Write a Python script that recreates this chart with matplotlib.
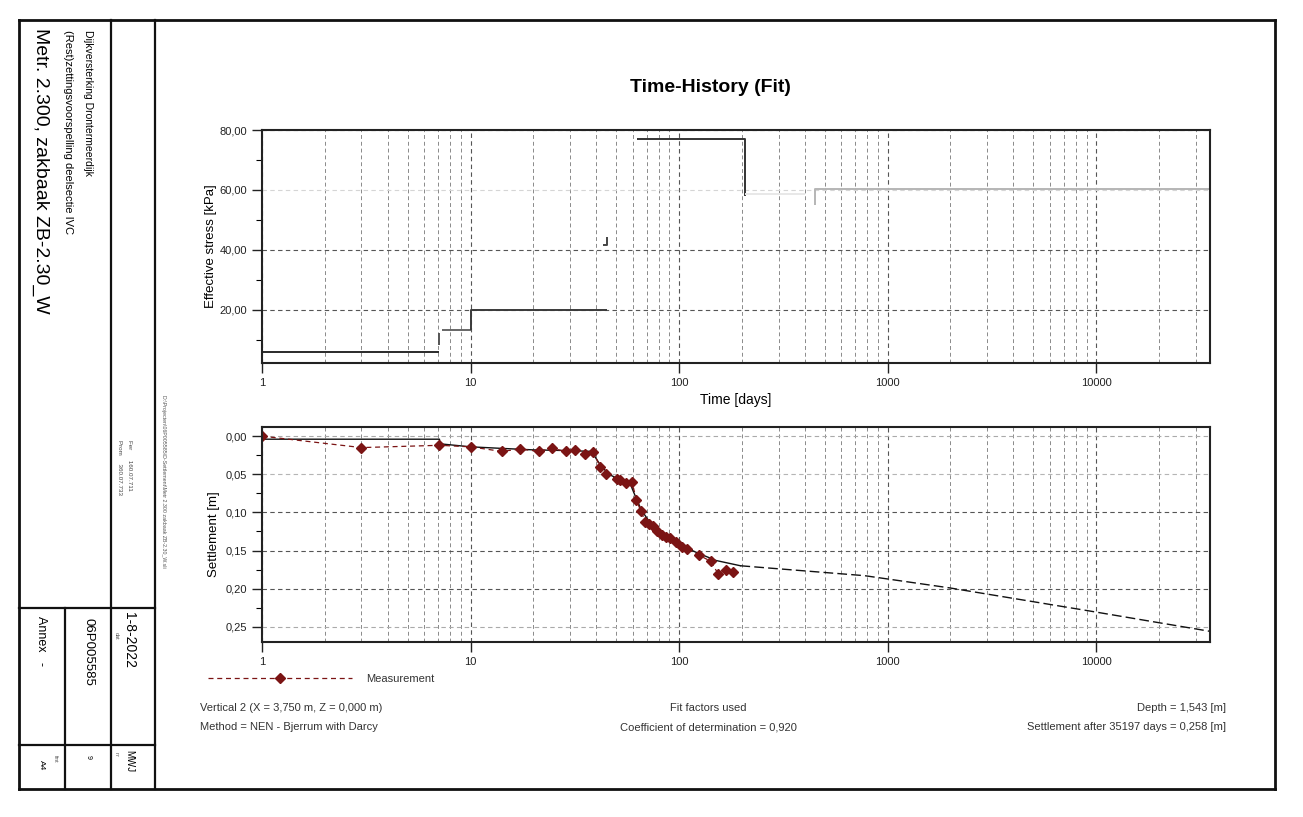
import numpy as np
import matplotlib.pyplot as plt
from matplotlib.lines import Line2D
from matplotlib.ticker import FixedLocator, FuncFormatter, NullFormatter, LogLocator

plt.rcParams['font.family'] = ['Liberation Sans', 'DejaVu Sans']

W, H = 1303, 817

# top graph: effective stress, drawn as separate pieces (days / kPa)
stress_days = [[1, 7.1], [7.1, 7.1], [7.3, 10], [10, 10, 45], [43, 45, 45],
               [63, 208, 208], [208, 400], [447, 447, 35197]]
stress_kpa = [[6.0, 6.0], [8.3, 12.3], [13.3, 13.3], [13.3, 20.0, 20.0], [41.7, 41.7, 44.4],
              [77.0, 77.0, 58.0], [58.5, 58.5], [55.0, 60.3, 60.3]]
stress_shade = ['#2a2a2a', '#555555', '#666666', '#3a3a3a', '#444444', '#333333', '#e8e8e8', '#b5b5b5']

# bottom graph: measured settlement
meas_days = [1, 3.0, 7.1, 10, 14.1, 17.3, 21.4, 24.5, 28.6, 31.6, 35.6, 38.8, 41.8, 44.8,
             50.2, 52.3, 55.8, 59.5, 62.5, 65.5, 69, 72, 75.4, 78.8, 82.6, 87, 91, 96.8,
             103.7, 109.6, 124.5, 141.6, 154.5, 167.8, 181.2]
meas_settl = [0.000, 0.015, 0.012, 0.014, 0.020, 0.017, 0.020, 0.016, 0.020, 0.018, 0.023, 0.021,
              0.040, 0.050, 0.056, 0.057, 0.062, 0.060, 0.084, 0.098, 0.112, 0.115, 0.118, 0.124,
              0.129, 0.132, 0.134, 0.139, 0.145, 0.148, 0.156, 0.164, 0.181, 0.175, 0.178]

# fitted curve
fit_days = [1, 7.1, 7.1, 10, 14, 20, 30, 38, 42, 46, 52, 58, 62, 66, 72, 80, 90, 100, 120, 150, 197]
fit_settl = [0.004, 0.004, 0.010, 0.014, 0.016, 0.018, 0.019, 0.020, 0.038, 0.050, 0.057, 0.061,
             0.080, 0.097, 0.112, 0.125, 0.135, 0.142, 0.152, 0.163, 0.170]
tail_days = [197, 776, 1982, 9160, 35197]
tail_settl = [0.170, 0.183, 0.199, 0.229, 0.256]

x_ticks = [1, 10, 100, 1000, 10000]
x_labels = ['1', '10', '100', '1000', '10000']
stress_ticks = [20, 40, 60, 80]
settl_ticks = [0.00, 0.05, 0.10, 0.15, 0.20, 0.25]

red = '#7b1414'


def fx(x):
    return x / W


def fy(y):
    return 1 - y / H


def style_axes(ax):
    ax.set_xscale('log')
    ax.set_xlim(1, 35197)
    ax.xaxis.set_major_locator(FixedLocator(x_ticks))
    ax.xaxis.set_major_formatter(FuncFormatter(lambda v, p: x_labels[x_ticks.index(round(v))] if round(v) in x_ticks else ''))
    ax.xaxis.set_minor_locator(LogLocator(base=10, subs=np.arange(2, 10)))
    ax.xaxis.set_minor_formatter(NullFormatter())
    ax.tick_params(which='major', direction='out', length=7, width=1, labelsize=8, colors='#222')
    ax.tick_params(axis='x', which='minor', length=0)
    ax.tick_params(axis='y', which='minor', direction='out', length=4, width=0.8)
    ax.grid(which='major', axis='both', ls=(0, (4, 3)), color='#555', lw=0.8)
    ax.grid(which='minor', axis='x', ls=(0, (4, 3)), color='#8a8a8a', lw=0.7)
    for s in ax.spines.values():
        s.set_linewidth(1.5)
        s.set_color('#222')
    ax.set_axisbelow(True)


fig = plt.figure(figsize=(W / 100, H / 100), dpi=100)

# ---- top graph
ax1 = fig.add_axes([fx(262), fy(363), fx(1210) - fx(262), fy(130) - fy(363)])
style_axes(ax1)
ax1.set_ylim(2.3, 80)
ax1.yaxis.set_major_locator(FixedLocator(stress_ticks))
ax1.yaxis.set_minor_locator(FixedLocator([10, 30, 50, 70]))
ax1.yaxis.set_major_formatter(FuncFormatter(lambda v, p: f'{v:.2f}'.replace('.', ',')))
for d, k, c in zip(stress_days, stress_kpa, stress_shade):
    ax1.plot(d, k, color=c, lw=1.4, solid_capstyle='butt')
for gl, c in zip(ax1.get_ygridlines(), ['#555', '#555', '#d5d5d5', '#555']):
    gl.set_color(c)
ax1.set_xlabel('Time [days]', fontsize=10, labelpad=4)
ax1.set_ylabel('Effective stress [kPa]', fontsize=9.5, labelpad=2)

# ---- bottom graph
ax2 = fig.add_axes([fx(262), fy(642), fx(1210) - fx(262), fy(427) - fy(642)])
style_axes(ax2)
ax2.set_ylim(0.27, -0.012)
ax2.yaxis.set_major_locator(FixedLocator(settl_ticks))
ax2.yaxis.set_minor_locator(FixedLocator([0.025, 0.075, 0.125, 0.175, 0.225]))
ax2.yaxis.set_major_formatter(FuncFormatter(lambda v, p: f'{v:.2f}'.replace('.', ',')))
for gl, c in zip(ax2.get_ygridlines(), ['#aaa', '#b5b5b5', '#555', '#555', '#555', '#aaa']):
    gl.set_color(c)
ax2.plot(fit_days, fit_settl, color='#111', lw=1.0)
ax2.plot(tail_days, tail_settl, color='#111', lw=1.0, ls=(0, (7, 3)))
meas, = ax2.plot(meas_days, meas_settl, color=red, lw=0.9, ls=(0, (4, 3)),
                 marker='D', markersize=5, markerfacecolor=red, markeredgecolor=red,
                 label='Measurement')
ax2.set_ylabel('Settlement [m]', fontsize=9.5, labelpad=4)

fig.legend(handles=[meas], loc='center left', bbox_to_anchor=(fx(208), fy(679)),
           frameon=False, fontsize=8, handlelength=13, handletextpad=1.2,
           borderpad=0, borderaxespad=0, numpoints=1, labelcolor='#333')

# ---- title and notes
fig.text(fx(710), fy(87), 'Time-History (Fit)', fontsize=14, fontweight='bold',
         ha='center', va='center')
note = dict(fontsize=8, color='#333', va='center')
fig.text(fx(200), fy(708), 'Vertical 2 (X = 3,750 m, Z = 0,000 m)', ha='left', **note)
fig.text(fx(200), fy(727), 'Method = NEN - Bjerrum with Darcy', ha='left', **note)
fig.text(fx(708), fy(708), 'Fit factors used', ha='center', **note)
fig.text(fx(708), fy(727), 'Coefficient of determination = 0,920', ha='center', **note)
fig.text(fx(1226), fy(708), 'Depth = 1,543 [m]', ha='right', **note)
fig.text(fx(1226), fy(727), 'Settlement after 35197 days = 0,258 [m]', ha='right', **note)

# ---- drawing frame and title block
def hline(y, x0, x1, lw=1.6):
    fig.add_artist(Line2D([fx(x0), fx(x1)], [fy(y), fy(y)], color='#111', lw=lw))


def vline(x, y0, y1, lw=1.6):
    fig.add_artist(Line2D([fx(x), fx(x)], [fy(y0), fy(y1)], color='#111', lw=lw))


hline(20, 19, 1275, 2)
hline(789, 19, 1275, 2)
vline(19, 20, 789, 2)
vline(1275, 20, 789, 2)
vline(110.5, 20, 789)
vline(155, 20, 789)
vline(65, 608, 789)
hline(608, 19, 155)
hline(745, 19, 155)

rot = dict(rotation=-90, ha='center', va='top')
fig.text(fx(88), fy(30), 'Dijkversterking Drontermeerdijk', fontsize=7.5, **rot)
fig.text(fx(68), fy(30), '(Rest)zettingsvoorspelling deelsectie IVC', fontsize=8, **rot)
fig.text(fx(41), fy(28), 'Metr. 2.300, zakbaak ZB-2.30_W', fontsize=14, **rot)
fig.text(fx(120), fy(440), 'Prom     360.07.733', fontsize=4.5, color='#444', **rot)
fig.text(fx(130), fy(440), 'Fer      160.07.711', fontsize=4.5, color='#444', **rot)
fig.text(fx(116), fy(632), 'dat', fontsize=4, color='#555', **rot)
fig.text(fx(129), fy(612), '1-8-2022', fontsize=10, **rot)
fig.text(fx(116), fy(752), 'nr', fontsize=4, color='#555', **rot)
fig.text(fx(129), fy(750), 'MWJ', fontsize=7, **rot)
fig.text(fx(88), fy(618), '06P005585', fontsize=9.5, **rot)
fig.text(fx(88), fy(755), '9', fontsize=5, **rot)
fig.text(fx(41), fy(616), 'Annex   -', fontsize=9, **rot)
fig.text(fx(55), fy(755), 'fmt', fontsize=4, color='#555', **rot)
fig.text(fx(41), fy(760), 'A4', fontsize=6, **rot)
fig.text(fx(163), fy(395), 'D:\\Projecten\\06P005585\\D-Settlement\\Metr 2.300 zakbaak ZB-2.30_W.sli',
         fontsize=3.8, color='#555', **rot)

fig.savefig('out.png', dpi=100)
